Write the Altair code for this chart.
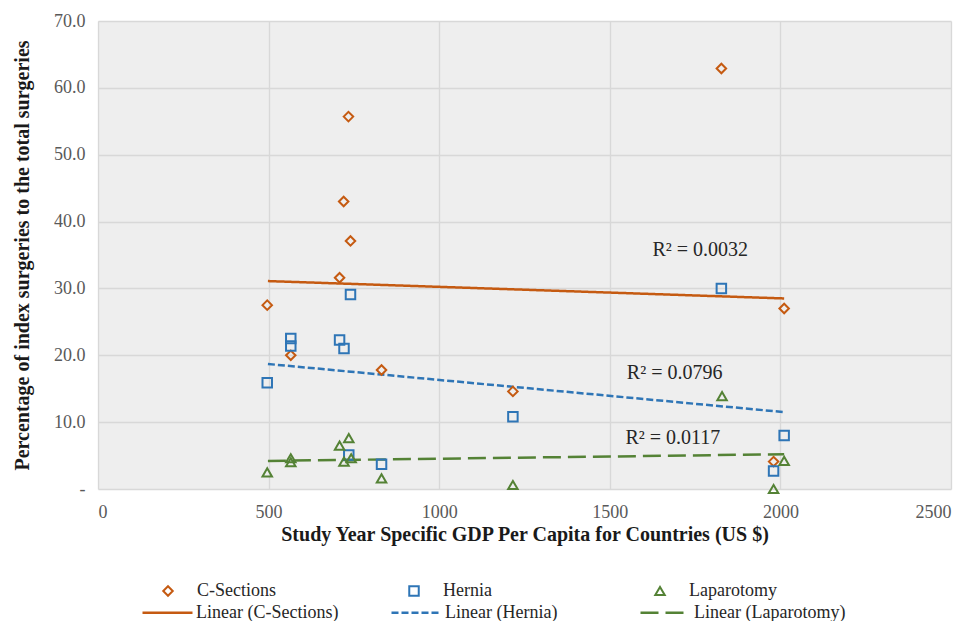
import altair as alt
import pandas as pd

# ---- data ----
series = ["C-Sections", "Hernia", "Laparotomy"]
trend_names = ["Linear (C-Sections)", "Linear (Hernia)", "Linear (Laparotomy)"]

cs_x = [496, 565, 708, 720, 734, 740, 831, 1216, 1827, 2011, 1980]
cs_y = [27.5, 20.0, 31.6, 43.0, 55.7, 37.1, 17.8, 14.6, 62.9, 27.0, 4.1]

he_x = [496, 565, 565, 708, 721, 740, 735, 831, 1216, 1827, 2011, 1980]
he_y = [15.9, 22.5, 21.4, 22.3, 21.0, 29.1, 5.1, 3.7, 10.8, 30.0, 8.0, 2.7]

la_x = [496, 565, 565, 708, 735, 721, 742, 831, 1216, 1829, 2011, 1980]
la_y = [2.5, 4.6, 4.0, 6.5, 7.6, 4.1, 4.6, 1.6, 0.6, 13.9, 4.2, 0.0]

# fitted linear trend lines (end points)
trend_x = [498, 2011]
cs_trend = [31.1, 28.5]
he_trend = [18.7, 11.5]
la_trend = [4.2, 5.2]

# R-squared annotations
r2_text = ["R\u00b2 = 0.0032", "R\u00b2 = 0.0796", "R\u00b2 = 0.0117"]
r2_x = [1765, 1690, 1685]
r2_y = [35.8, 17.3, 7.6]

x_ticks = [0, 500, 1000, 1500, 2000, 2500]
y_ticks = [0, 10, 20, 30, 40, 50, 60, 70]

colors = ["#C55A11", "#2E75B6", "#548235"]
shapes = ["diamond", "square", "triangle-up"]
dashes = [[1, 0], [7, 3], [18, 7]]

FONT = "Liberation Serif"

# ---- tables ----
pts = pd.concat([
    pd.DataFrame({"gdp": cs_x, "pct": cs_y, "Series": series[0]}),
    pd.DataFrame({"gdp": he_x, "pct": he_y, "Series": series[1]}),
    pd.DataFrame({"gdp": la_x, "pct": la_y, "Series": series[2]}),
], ignore_index=True)

trend = pd.concat([
    pd.DataFrame({"gdp": trend_x, "pct": cs_trend, "Trend": trend_names[0]}),
    pd.DataFrame({"gdp": trend_x, "pct": he_trend, "Trend": trend_names[1]}),
    pd.DataFrame({"gdp": trend_x, "pct": la_trend, "Trend": trend_names[2]}),
], ignore_index=True)

ann = pd.DataFrame({"gdp": r2_x, "pct": r2_y, "label": r2_text})

x_enc = alt.X("gdp:Q", scale=alt.Scale(domain=[0, 2500], nice=False),
              axis=alt.Axis(values=x_ticks, title="Study Year Specific GDP Per Capita for Countries (US $)",
                            format="d", labelPadding=14, titlePadding=3))
y_enc = alt.Y("pct:Q", scale=alt.Scale(domain=[0, 70], nice=False),
              axis=alt.Axis(values=y_ticks, title="Percentage of index surgeries to the total surgeries",
                            labelExpr="datum.value == 0 ? '-' : format(datum.value, '.1f')",
                            labelPadding=13, titlePadding=21))

leg1 = alt.Legend(title=None, orient="none", legendX=61, legendY=561, direction="horizontal",
                  columns=3, gridAlign="all", columnPadding=120, symbolSize=90,
                  symbolStrokeWidth=2, labelOffset=20, labelFont=FONT, labelFontSize=18,
                  labelColor="#262626", labelLimit=300)

leg2 = alt.Legend(title=None, orient="none", legendX=43, legendY=565, direction="horizontal",
                  columns=3, gridAlign="all", columnPadding=38, symbolType="stroke",
                  symbolSize=2500, symbolStrokeWidth=2.5, labelOffset=2, labelFont=FONT,
                  labelFontSize=18, labelColor="#262626", labelLimit=300)

points = alt.Chart(pts).mark_point(filled=False, size=90, strokeWidth=2, opacity=1).encode(
    x=x_enc, y=y_enc,
    color=alt.Color("Series:N", scale=alt.Scale(domain=series, range=colors), legend=leg1),
    shape=alt.Shape("Series:N", scale=alt.Scale(domain=series, range=shapes), legend=leg1),
)

lines = alt.Chart(trend).mark_line(strokeWidth=2.5).encode(
    x="gdp:Q", y="pct:Q",
    stroke=alt.Stroke("Trend:N", scale=alt.Scale(domain=trend_names, range=colors), legend=leg2),
    strokeDash=alt.StrokeDash("Trend:N", scale=alt.Scale(domain=trend_names, range=dashes), legend=leg2),
)

labels = alt.Chart(ann).mark_text(font=FONT, fontSize=20, color="#262626", align="center",
                                  baseline="middle").encode(
    x="gdp:Q", y="pct:Q", text="label:N")

chart = alt.layer(lines, points, labels).resolve_scale(
    color="independent", shape="independent", stroke="independent", strokeDash="independent"
).properties(
    width=853, height=468,
    autosize=alt.AutoSizeParams(type="none"),
    padding={"left": 90, "top": 13, "right": 12, "bottom": 132},
    background="white",
).configure(
    font=FONT
).configure_view(
    fill="#eeeeee", stroke=None
).configure_axis(
    grid=True, gridColor="#d8d8d8", gridWidth=1.3, domain=False, ticks=False,
    labelFont=FONT, labelFontSize=18, labelColor="#595959",
    titleFont=FONT, titleFontSize=20, titleFontWeight="bold", titleColor="#1a1a1a",
).configure_legend(
    labelFont=FONT, labelFontSize=18, labelColor="#262626"
)

chart.save("out.html", embed_options={"renderer": "svg", "actions": False})
